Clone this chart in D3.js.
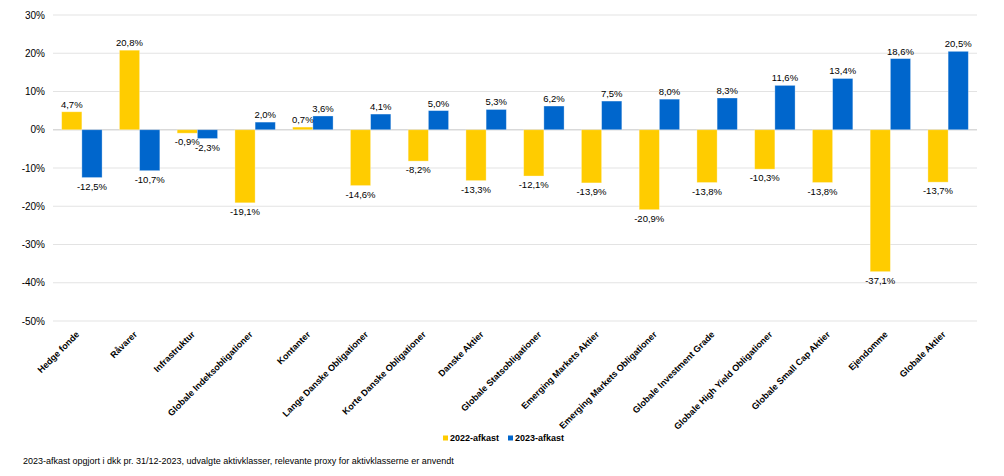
<!DOCTYPE html>
<html>
<head>
<meta charset="utf-8">
<script src="https://cdn.jsdelivr.net/npm/d3@7"></script>
<style>
  body { margin: 0; background: #fff; }
  text { font-family: "Liberation Sans", Arial, sans-serif; fill: #000; }
</style>
</head>
<body>
<script>
const categories = ["Hedge fonde", "Råvarer", "Infrastruktur", "Globale Indeksobligationer",
  "Kontanter", "Lange Danske Obligationer", "Korte Danske Obligationer", "Danske Aktier",
  "Globale Statsobligationer", "Emerging Markets Aktier", "Emerging Markets Obligationer",
  "Globale Investment Grade", "Globale High Yield Obligationer", "Globale Small Cap Aktier",
  "Ejendomme", "Globale Aktier"];
const afkast2022 = [4.7, 20.8, -0.9, -19.1, 0.7, -14.6, -8.2, -13.3, -12.1, -13.9, -20.9, -13.8, -10.3, -13.8, -37.1, -13.7];
const afkast2023 = [-12.5, -10.7, -2.3, 2.0, 3.6, 4.1, 5.0, 5.3, 6.2, 7.5, 8.0, 8.3, 11.6, 13.4, 18.6, 20.5];
const seriesNames = ["2022-afkast", "2023-afkast"];
const yTicks = [30, 20, 10, 0, -10, -20, -30, -40, -50];
const colors = ["#FFCC00", "#0066CC"];
const note = "2023-afkast opgjort i dkk pr. 31/12-2023, udvalgte aktivklasser, relevante proxy for aktivklasserne er anvendt";

const width = 1004, height = 476;
const margin = {left: 53, right: 977, top: 15, bottom: 321};

// danish style: comma decimal, plain hyphen for minus
const fmt = v => v.toFixed(1).replace(".", ",") + "%";

const svg = d3.select("body").append("svg")
    .attr("width", width)
    .attr("height", height);

const x = d3.scaleBand().domain(categories).range([margin.left, margin.right]).paddingInner(0.3).paddingOuter(0.15);
const x1 = d3.scaleBand().domain(seriesNames).range([0, x.bandwidth()]);
const y = d3.scaleLinear().domain([-50, 30]).range([margin.bottom, margin.top]);

// gridlines
svg.append("g")
    .selectAll("line")
    .data(yTicks)
    .join("line")
    .attr("x1", margin.left).attr("x2", margin.right)
    .attr("y1", d => y(d)).attr("y2", d => y(d))
    .attr("stroke", d => d === 0 ? "#d9d9d9" : "#e3e3e3")
    .attr("stroke-width", d => d === 0 ? 1.5 : 1);

// y axis labels
svg.append("g")
    .attr("font-size", 10)
    .selectAll("text")
    .data(yTicks)
    .join("text")
    .attr("x", 45)
    .attr("y", d => y(d))
    .attr("dy", "0.35em")
    .attr("text-anchor", "end")
    .text(d => d + "%");

const rows = categories.map((c, i) => [
  {cat: c, key: seriesNames[0], v: afkast2022[i], c: colors[0]},
  {cat: c, key: seriesNames[1], v: afkast2023[i], c: colors[1]}
]).flat();

svg.append("g")
    .selectAll("rect")
    .data(rows)
    .join("rect")
    .attr("x", d => x(d.cat) + x1(d.key))
    .attr("width", x1.bandwidth())
    .attr("y", d => y(Math.max(0, d.v)))
    .attr("height", d => Math.abs(y(d.v) - y(0)))
    .attr("fill", d => d.c)
    .attr("stroke", "#fff")
    .attr("stroke-opacity", 0.4)
    .attr("stroke-width", 0.8);

// data labels
svg.append("g")
    .attr("font-size", 9.5)
    .selectAll("text")
    .data(rows)
    .join("text")
    .attr("x", d => x(d.cat) + x1(d.key) + x1.bandwidth() / 2)
    .attr("y", d => d.v >= 0 ? y(d.v) - 4 : y(d.v) + 12)
    .attr("text-anchor", "middle")
    .text(d => fmt(d.v));

// category labels
svg.append("g")
    .attr("font-size", 9)
    .attr("font-weight", "bold")
    .selectAll("text")
    .data(categories)
    .join("text")
    .attr("transform", d => `translate(${x(d) + x.bandwidth() / 2 - 2},${margin.bottom + 14}) rotate(-45)`)
    .attr("text-anchor", "end")
    .text(d => d);

// legend
const legend = svg.append("g")
    .attr("font-size", 9)
    .attr("font-weight", "bold")
    .selectAll("g")
    .data(seriesNames)
    .join("g")
    .attr("transform", (d, i) => `translate(${443 + i * 65},438)`);
legend.append("rect")
    .attr("x", 0).attr("y", -2.5)
    .attr("width", 5).attr("height", 5)
    .attr("fill", (d, i) => colors[i]);
legend.append("text")
    .attr("x", 7).attr("dy", "0.35em")
    .text(d => d);

svg.append("text")
    .attr("x", 23).attr("y", 464)
    .attr("font-size", 9)
    .text(note);
</script>
</body>
</html>
